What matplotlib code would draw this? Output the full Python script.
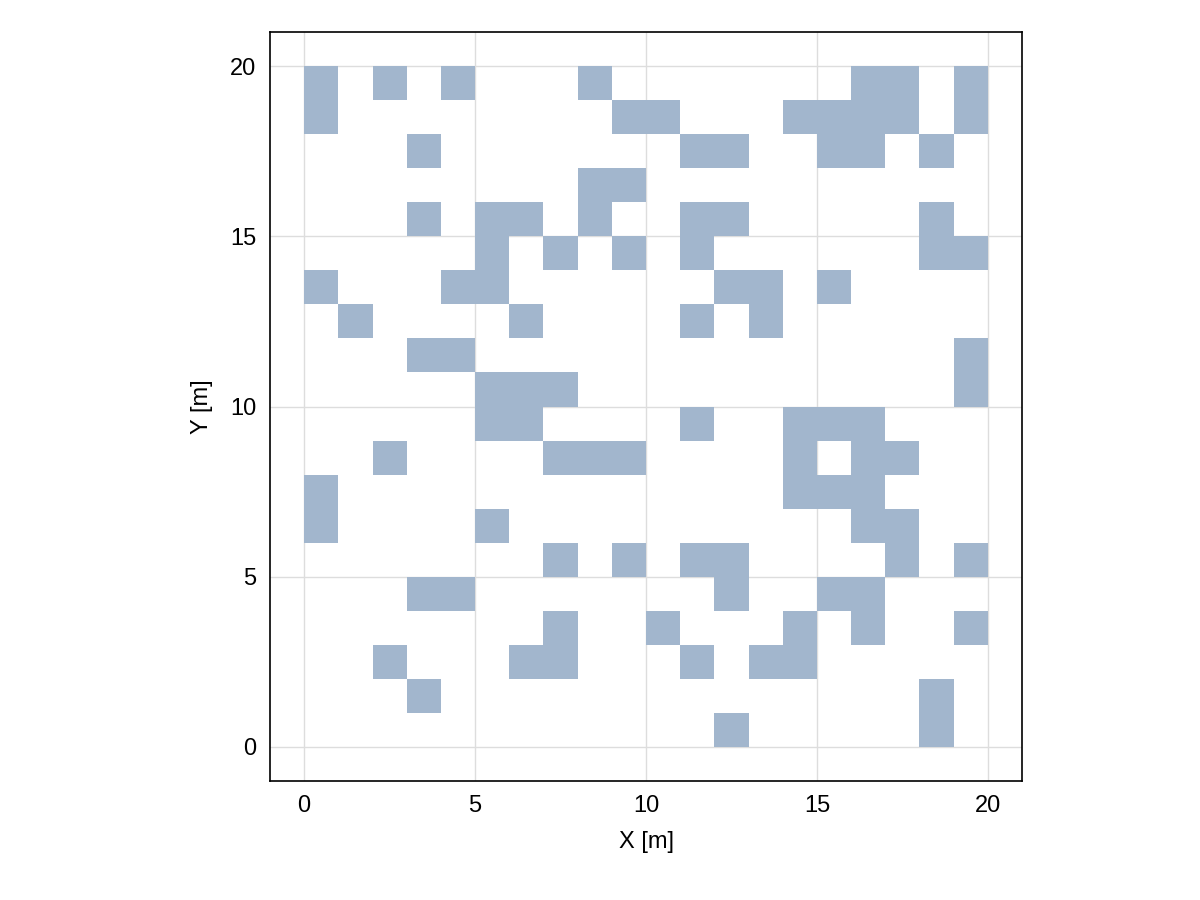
import matplotlib
matplotlib.use("Agg")
import matplotlib.pyplot as plt
from matplotlib.patches import Rectangle

# filled cells per row: y -> list of x (cell [x,x+1] x [y,y+1])
rows = {
    19: [0, 2, 4, 8, 16, 17, 19],
    18: [0, 9, 10, 14, 15, 16, 17, 19],
    17: [3, 11, 12, 15, 16, 18],
    16: [8, 9],
    15: [3, 5, 6, 8, 11, 12, 18],
    14: [5, 7, 9, 11, 18, 19],
    13: [0, 4, 5, 12, 13, 15],
    12: [1, 6, 11, 13],
    11: [3, 4, 19],
    10: [5, 6, 7, 19],
    9: [5, 6, 11, 14, 15, 16],
    8: [2, 7, 8, 9, 14, 16, 17],
    7: [0, 14, 15, 16],
    6: [0, 5, 16, 17],
    5: [7, 9, 11, 12, 17, 19],
    4: [3, 4, 12, 15, 16],
    3: [7, 10, 14, 16, 19],
    2: [2, 6, 7, 11, 13, 14],
    1: [3, 18],
    0: [12, 18],
}
xticks = [0, 5, 10, 15, 20]
yticks = [0, 5, 10, 15, 20]

plt.rcParams['font.family'] = ['Liberation Sans', 'DejaVu Sans']
fig = plt.figure(figsize=(12, 9), dpi=100)
ax = fig.add_axes([0.225, 0.1322, 0.6267, 0.8322])
color = "#a2b6cd"
for y, xs in rows.items():
    for x in xs:
        ax.add_patch(Rectangle((x, y), 1, 1, facecolor=color, edgecolor="none", zorder=2))
ax.set_xlim(-1, 21)
ax.set_ylim(-1, 21)
ax.set_xticks(xticks)
ax.set_yticks(yticks)
ax.grid(True, color="#dddddd", linewidth=1, zorder=0)
ax.set_axisbelow(True)
ax.tick_params(labelsize=17, length=0, pad=10)
ax.set_xlabel("X [m]", fontsize=17, labelpad=10)
ax.set_ylabel("Y [m]", fontsize=17, labelpad=12)
for s in ax.spines.values():
    s.set_linewidth(1.2)
fig.savefig("out.png", dpi=100)
